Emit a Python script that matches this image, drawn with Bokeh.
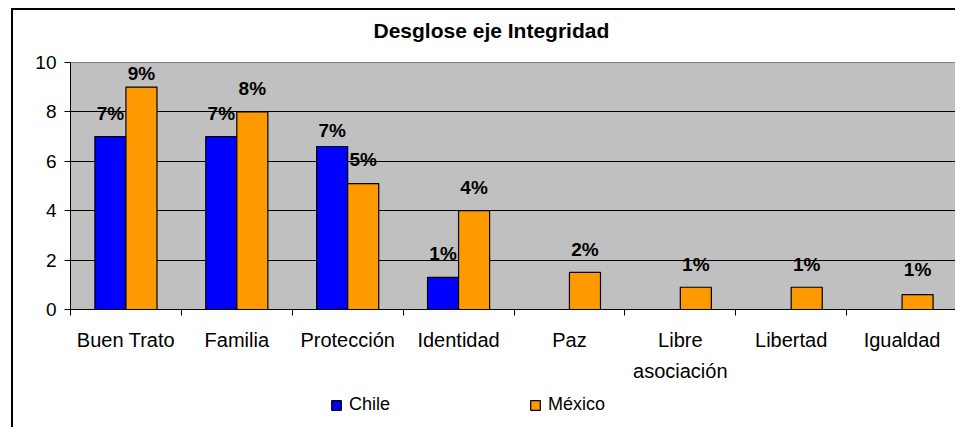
from bokeh.plotting import figure
from bokeh.models import ColumnDataSource, FixedTicker, Legend, LegendItem, Range1d, Title
from bokeh.layouts import column
from bokeh.core.properties import value
from bokeh.embed import file_html
from bokeh.resources import INLINE

categories = ["Buen Trato", "Familia", "Protección", "Identidad", "Paz",
              "Libre asociación", "Libertad", "Igualdad"]
series = ["Chile", "México"]
chile = [7, 7, 6.6, 1.3, 0, 0, 0, 0]
mexico = [9, 8, 5.1, 4, 1.5, 0.9, 0.9, 0.6]
chile_pct = ["7%", "7%", "7%", "1%", "", "", "", ""]
mexico_pct = ["9%", "8%", "5%", "4%", "2%", "1%", "1%", "1%"]
y_ticks = [0, 2, 4, 6, 8, 10]
title_text = "Desglose eje Integridad"

FONT = "Liberation Sans"
BLUE = "#0000FF"
ORANGE = "#FF9900"
GRAY = "#C0C0C0"
BAR_W = 0.28
SHIFT = 0.14

n = len(categories)
centers = [i + 0.5 for i in range(n)]

p = figure(width=944, height=387, output_backend="svg", toolbar_location=None,
           x_range=Range1d(0, n), y_range=Range1d(0, 10),
           min_border_left=57, min_border_right=0, min_border_top=52,
           min_border_bottom=88)
p.styles = {"border-top": "2px solid black", "border-left": "2px solid black",
            "margin-left": "11px", "margin-top": "8px"}

p.background_fill_color = GRAY
p.border_fill_color = "white"
p.outline_line_color = "#808080"
p.outline_line_width = 1

src_c = ColumnDataSource(dict(x=[c - SHIFT for c in centers], top=chile,
                              lab=chile_pct,
                              dy=[-23, -23, -16, -24, -23, -23, -23, -23]))
src_m = ColumnDataSource(dict(x=[c + SHIFT for c in centers], top=mexico,
                              lab=mexico_pct,
                              dy=[-14, -23, -24, -23, -23, -23, -23, -25]))

rc = p.vbar(x="x", top="top", width=BAR_W, bottom=0, source=src_c,
            fill_color=BLUE, line_color="black", line_width=1.2)
rm = p.vbar(x="x", top="top", width=BAR_W, bottom=0, source=src_m,
            fill_color=ORANGE, line_color="black", line_width=1.2)

for s in (src_c, src_m):
    p.text(x="x", y="top", text="lab", source=s, y_offset="dy",
           text_align="center", text_baseline="middle",
           text_font=value(FONT), text_font_style="bold",
           text_font_size="19px", text_color="black")

# grid
p.xgrid.grid_line_color = None
p.ygrid.grid_line_color = "black"
p.ygrid.grid_line_width = 1
p.ygrid.ticker = FixedTicker(ticks=y_ticks)

# y axis
p.yaxis.ticker = FixedTicker(ticks=y_ticks)
p.yaxis.axis_line_color = "black"
p.yaxis.major_tick_line_color = "black"
p.yaxis.major_tick_out = 6
p.yaxis.major_tick_in = 0
p.yaxis.minor_tick_line_color = None
p.yaxis.major_label_text_font = FONT
p.yaxis.major_label_text_font_size = "19px"
p.yaxis.major_label_text_color = "black"
p.yaxis.major_label_standoff = 8

# x axis
p.xaxis.ticker = FixedTicker(ticks=centers, minor_ticks=list(range(n + 1)))
p.xaxis.major_label_overrides = {c: lab.replace("Libre ", "Libre\n")
                                 for c, lab in zip(centers, categories)}
p.xaxis.axis_line_color = "black"
p.xaxis.major_tick_line_color = None
p.xaxis.major_tick_out = 0
p.xaxis.major_tick_in = 0
p.xaxis.minor_tick_line_color = "black"
p.xaxis.minor_tick_out = 6
p.xaxis.minor_tick_in = 0
p.xaxis.major_label_text_font = FONT
p.xaxis.major_label_text_font_size = "20px"
p.xaxis.major_label_text_color = "black"
p.xaxis.major_label_standoff = 13
p.xaxis.major_label_text_line_height = 1.45

# title (outer) with a small blank spacer title between it and the frame
p.title.text = title_text
p.title.text_font = FONT
p.title.text_font_style = "bold"
p.title.text_font_size = "21px"
p.title.text_color = "black"
p.title.align = "left"
p.title.offset = 303
p.add_layout(Title(text=" ", text_font_size="12px", standoff=0), "above")

# legend strip (continues the chart area below the axis)
leg = figure(width=944, height=40, output_backend="svg", toolbar_location=None,
             x_range=Range1d(0, 1), y_range=Range1d(0, 1),
             x_axis_location=None, y_axis_location=None,
             min_border_left=0, min_border_right=0, min_border_top=0,
             min_border_bottom=0)
leg.styles = {"border-left": "2px solid black", "margin-left": "11px"}
leg.outline_line_color = None
leg.grid.grid_line_color = None
leg.background_fill_color = "white"
hidden = ColumnDataSource(dict(x=[float("nan")], top=[float("nan")]))
lc = leg.vbar(x="x", top="top", width=0.1, source=hidden,
              fill_color=BLUE, line_color="black", line_width=1.2)
lm = leg.vbar(x="x", top="top", width=0.1, source=hidden,
              fill_color=ORANGE, line_color="black", line_width=1.2)
legend = Legend(items=[LegendItem(label=series[0], renderers=[lc]),
                       LegendItem(label=series[1], renderers=[lm])],
                orientation="horizontal", location=(260, 20),
                padding=0, margin=0, spacing=139, label_standoff=7,
                glyph_width=12, glyph_height=12, label_height=12,
                label_text_font=FONT, label_text_font_size="18px",
                label_text_color="black",
                border_line_color=None, background_fill_alpha=0)
leg.add_layout(legend, "center")

layout = column(p, leg, spacing=0)
open("out.html", "w").write(file_html(layout, INLINE))
